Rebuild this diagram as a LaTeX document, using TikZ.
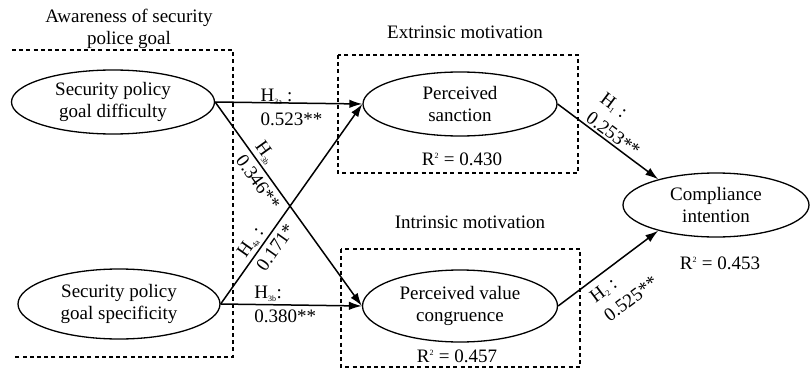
\documentclass[tikz,border=0pt]{standalone}
\usepackage{fontspec}
\setmainfont{Liberation Serif}
\usetikzlibrary{shapes.geometric,arrows.meta}
\newcommand\hsub[1]{\textsubscript{\fontsize{8}{8}\selectfont #1}}
\newcommand\rsup{\textsuperscript{\fontsize{8}{8}\selectfont 2}}
\begin{document}
\begin{tikzpicture}[x=1pt,y=-1pt,
  every node/.style={font=\fontsize{19}{22}\selectfont},
  ell/.style={draw, ellipse, line width=1.3pt, inner sep=0pt, align=center},
  arr/.style={line width=1.5pt, -{Latex[length=13pt,width=8.5pt]}},
  dotbox/.style={line width=2.4pt, dash pattern=on 4pt off 3.2pt},
  lbl/.style={align=left, inner sep=2pt, font=\fontsize{19}{24}\selectfont}
]
\useasboundingbox (0,0) rectangle (811,369);

% dotted group boxes
\draw[dotbox] (12,50) -- (233,50) -- (233,357) -- (15,357);
\draw[dotbox] (338,55) rectangle (578,173);
\draw[dotbox] (341,249) rectangle (580,367);

% titles
\node[align=center] (aw) at (129,29) {Awareness of security\\police goal};
\node (ext) at (465,32) {Extrinsic motivation};
\node (intr) at (470,222) {Intrinsic motivation};

% constructs
\node[ell, minimum width=203pt, minimum height=64pt] (diff) at (113,102) {Security policy\\goal difficulty};
\node[ell, minimum width=202pt, minimum height=70pt] (spec) at (119,304) {Security policy\\goal specificity};
\node[ell, minimum width=194pt, minimum height=64pt] (sanc) at (460,104) {Perceived\\sanction};
\node[ell, minimum width=195pt, minimum height=72pt] (pvc) at (460,306) {Perceived value\\congruence};
\node[ell, minimum width=186pt, minimum height=64pt] (comp) at (716,205) {Compliance\\intention};

% R squared
\node (r1) at (462,159) {R\rsup{} = 0.430};
\node (r2) at (457,356) {R\rsup{} = 0.457};
\node (r3) at (720,263) {R\rsup{} = 0.453};

% paths
\draw[arr] (diff.east) -- (sanc.west)
  node[lbl, pos=0.29, anchor=west, yshift=-5pt] {H\hsub{3a} :\\0.523**};
\draw[arr] (diff.east) -- (pvc.west)
  node[lbl, sloped, pos=0.225, anchor=west] {H\hsub{3b}\\0.346**};
\draw[arr] (spec.east) -- (sanc.west)
  node[lbl, sloped, pos=0.2, anchor=west] {H\hsub{4a} :\\0.171*};
\draw[arr] (spec.east) -- (pvc.west)
  node[lbl, pos=0.22, anchor=west] {H\hsub{3b}:\\0.380**};
\draw[arr] (sanc.east) -- (comp.156)
  node[lbl, sloped, pos=0.23, anchor=south west] {H\hsub{1} :\\0.253**};
\draw[arr] (pvc.east) -- (comp.204)
  node[lbl, sloped, pos=0.23, anchor=north west, inner ysep=7pt] {H\hsub{2} :\\0.525**};
\end{tikzpicture}
\end{document}
